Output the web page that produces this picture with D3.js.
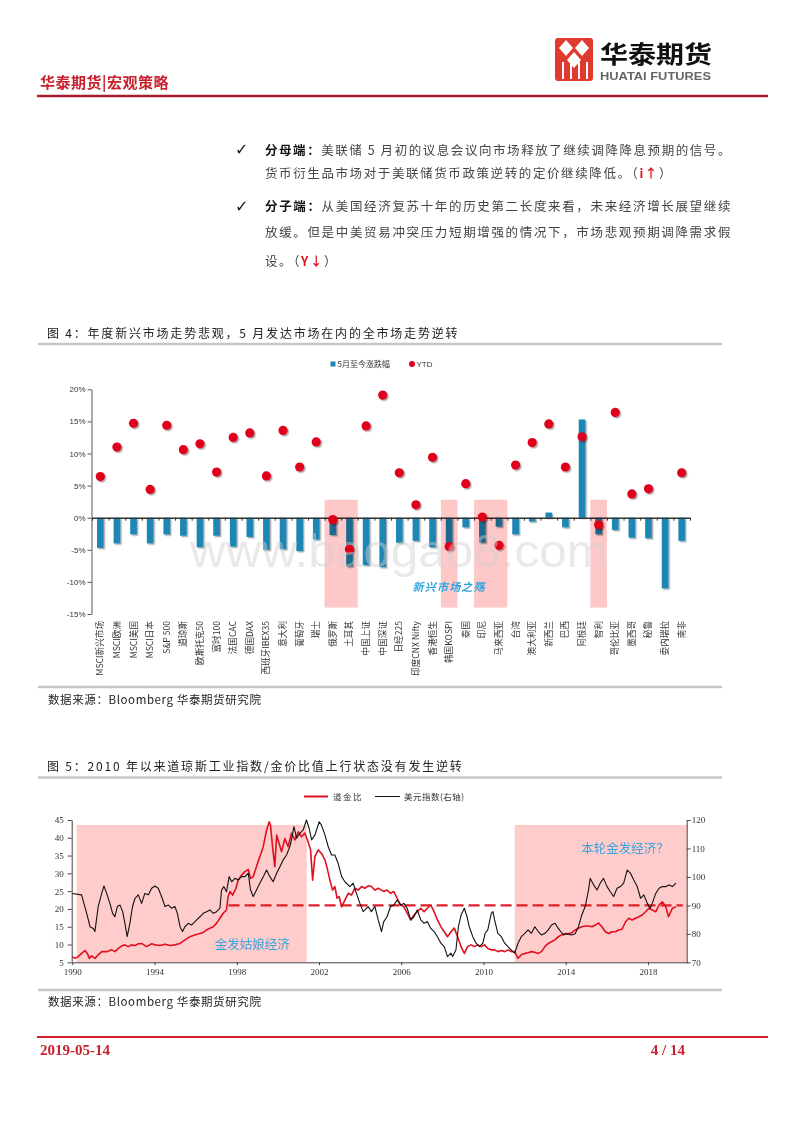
<!DOCTYPE html>
<html><head><meta charset="utf-8">
<script src="https://cdn.jsdelivr.net/npm/d3@7"></script>
<style>
html,body{margin:0;padding:0;background:#fff;}
svg{display:block;}
</style></head>
<body>
<svg id="page" width="800" height="1132"></svg>
<script>
// ---------------- DATA ----------------
const markets = ["MSCI新兴市场","MSCI欧洲","MSCI美国","MSCI日本","S&P 500","道琼斯","欧斯托克50","富时100","法国CAC","德国DAX","西班牙IBEX35","意大利","葡萄牙","瑞士","俄罗斯","土耳其","中国上证","中国深证","日经225","印度CNX Nifty","香港恒生","韩国KOSPI","泰国","印尼","马来西亚","台湾","澳大利亚","新西兰","巴西","阿根廷","智利","哥伦比亚","墨西哥","秘鲁","委内瑞拉","南非"];
const mayChange = [-4.7,-4.0,-2.6,-4.0,-2.6,-2.8,-4.6,-2.8,-4.5,-3.0,-5.0,-4.9,-5.2,-3.4,-2.7,-7.6,-7.4,-7.7,-3.9,-3.6,-4.6,-4.1,-1.5,-3.9,-1.4,-2.6,-0.6,0.8,-1.5,15.3,-2.6,-1.9,-3.1,-3.2,-11.0,-3.6];
const ytdChange = [6.4,11.0,14.7,4.4,14.4,10.6,11.5,7.1,12.5,13.2,6.5,13.6,7.9,11.8,-0.3,-4.9,14.3,19.1,7.0,2.0,9.4,-4.5,5.3,0.1,-4.3,8.2,11.7,14.6,7.9,12.6,-1.1,16.4,3.7,4.5,null,7.0];
const pctTicks = [-15,-10,-5,0,5,10,15,20];
const emBands = [["俄罗斯","土耳其"],["韩国KOSPI","韩国KOSPI"],["印尼","马来西亚"],["智利","智利"]];
const emBandRange = [2.8,-14];

const dowGoldRatio = [[1990.00,6.6],[1990.13,6.1],[1990.29,6.6],[1990.45,7.5],[1990.62,8.3],[1990.73,7.5],[1990.83,6.1],[1990.94,6.8],[1991.10,6.1],[1991.26,7.1],[1991.43,8.0],[1991.67,8.0],[1991.91,8.5],[1992.07,8.0],[1992.24,8.9],[1992.40,9.6],[1992.56,9.9],[1992.72,9.4],[1992.88,9.9],[1993.05,9.7],[1993.21,10.2],[1993.37,10.3],[1993.61,9.4],[1993.86,10.2],[1994.02,9.9],[1994.26,9.7],[1994.51,10.1],[1994.75,9.7],[1994.99,9.9],[1995.24,10.3],[1995.48,11.3],[1995.72,12.2],[1995.96,12.7],[1996.21,13.1],[1996.37,13.4],[1996.53,14.1],[1996.69,14.6],[1996.86,15.0],[1997.02,16.0],[1997.18,17.4],[1997.34,18.8],[1997.50,19.7],[1997.58,23.5],[1997.67,24.9],[1997.80,23.9],[1997.96,25.8],[1998.07,28.1],[1998.23,29.5],[1998.40,30.5],[1998.56,31.1],[1998.67,28.6],[1998.80,29.1],[1998.96,31.9],[1999.12,34.7],[1999.29,37.5],[1999.45,42.2],[1999.58,44.5],[1999.64,43.6],[1999.74,37.5],[1999.85,31.9],[1999.94,40.8],[2000.06,38.4],[2000.18,36.1],[2000.34,39.8],[2000.50,37.5],[2000.66,41.3],[2000.83,39.4],[2000.99,41.7],[2001.15,40.3],[2001.31,41.3],[2001.47,38.9],[2001.59,36.6],[2001.69,28.1],[2001.80,34.7],[2001.96,36.6],[2002.12,35.6],[2002.29,33.8],[2002.40,31.4],[2002.53,28.1],[2002.66,25.3],[2002.77,26.3],[2002.88,23.0],[2002.98,23.5],[2003.10,20.6],[2003.26,22.5],[2003.42,24.4],[2003.58,23.9],[2003.74,25.8],[2003.91,25.3],[2004.07,26.3],[2004.23,25.8],[2004.39,26.5],[2004.55,26.3],[2004.72,25.3],[2004.88,25.8],[2005.04,25.3],[2005.15,24.9],[2005.31,25.3],[2005.48,24.4],[2005.64,24.9],[2005.80,23.0],[2005.97,21.1],[2006.13,20.6],[2006.29,18.8],[2006.46,16.9],[2006.62,18.3],[2006.78,19.2],[2006.95,20.2],[2007.11,19.2],[2007.27,20.2],[2007.44,21.1],[2007.60,19.2],[2007.76,16.9],[2007.93,15.0],[2008.09,13.6],[2008.25,12.2],[2008.42,13.6],[2008.58,14.6],[2008.74,12.2],[2008.91,9.4],[2009.07,7.5],[2009.23,9.4],[2009.40,9.9],[2009.56,9.4],[2009.72,9.9],[2009.89,9.4],[2010.05,9.9],[2010.21,8.9],[2010.38,8.5],[2010.54,8.5],[2010.70,8.0],[2010.87,8.3],[2011.03,8.0],[2011.19,8.5],[2011.36,8.0],[2011.52,8.0],[2011.68,6.1],[2011.84,7.1],[2012.01,7.5],[2012.17,7.7],[2012.33,8.0],[2012.50,7.8],[2012.66,7.5],[2012.82,8.0],[2012.99,9.4],[2013.15,10.3],[2013.31,10.8],[2013.48,11.3],[2013.64,12.2],[2013.80,12.7],[2013.97,13.1],[2014.13,13.0],[2014.29,13.3],[2014.46,14.1],[2014.62,14.6],[2014.78,15.0],[2014.95,15.2],[2015.11,15.2],[2015.27,15.0],[2015.44,15.5],[2015.60,16.0],[2015.76,15.0],[2015.93,13.6],[2016.09,13.1],[2016.25,13.6],[2016.42,13.6],[2016.58,14.1],[2016.74,14.3],[2016.91,16.4],[2017.07,17.4],[2017.23,16.9],[2017.40,17.4],[2017.56,17.8],[2017.72,18.3],[2017.89,19.2],[2018.05,20.2],[2018.21,19.7],[2018.38,19.2],[2018.54,21.1],[2018.70,22.0],[2018.87,20.6],[2019.00,17.8],[2019.11,19.2],[2019.19,20.2],[2019.36,20.6]];

const dollarIndex = [[1990.00,94.2],[1990.45,93.7],[1990.70,87.2],[1990.86,82.5],[1991.02,81.9],[1991.10,80.8],[1991.26,89.6],[1991.43,94.2],[1991.54,96.8],[1991.67,94.2],[1991.83,90.7],[1991.96,87.2],[1992.07,86.0],[1992.19,89.6],[1992.32,90.1],[1992.45,87.8],[1992.56,83.7],[1992.67,79.0],[1992.80,83.7],[1992.93,89.6],[1993.05,92.5],[1993.21,93.7],[1993.37,90.7],[1993.53,94.2],[1993.70,93.7],[1993.86,96.0],[1994.02,96.8],[1994.18,96.0],[1994.34,93.1],[1994.51,89.6],[1994.67,90.1],[1994.83,89.0],[1994.99,89.6],[1995.11,87.2],[1995.24,82.5],[1995.36,80.8],[1995.48,82.5],[1995.64,83.7],[1995.80,83.1],[1996.05,84.9],[1996.21,86.0],[1996.37,87.2],[1996.53,87.8],[1996.69,88.4],[1996.86,87.2],[1997.02,87.8],[1997.18,89.0],[1997.26,95.4],[1997.37,96.6],[1997.50,94.8],[1997.63,100.1],[1997.75,98.3],[1997.91,99.5],[1998.07,98.9],[1998.23,100.1],[1998.40,100.1],[1998.56,101.3],[1998.67,95.4],[1998.80,93.1],[1998.96,95.4],[1999.12,97.8],[1999.29,100.1],[1999.45,102.4],[1999.61,100.1],[1999.77,98.3],[1999.94,101.3],[2000.10,103.6],[2000.26,106.0],[2000.42,107.7],[2000.58,110.6],[2000.66,113.0],[2000.78,117.7],[2000.91,113.6],[2001.07,115.3],[2001.23,116.5],[2001.39,120.0],[2001.52,117.1],[2001.64,113.0],[2001.80,114.7],[2002.01,119.4],[2002.12,118.2],[2002.29,114.7],[2002.45,110.6],[2002.61,107.7],[2002.77,107.7],[2002.93,104.8],[2003.10,100.1],[2003.26,98.3],[2003.50,96.6],[2003.66,97.8],[2003.82,94.2],[2003.99,90.7],[2004.15,87.8],[2004.39,89.6],[2004.55,87.8],[2004.72,89.6],[2004.88,84.9],[2005.04,80.8],[2005.15,84.3],[2005.31,86.0],[2005.48,89.6],[2005.64,90.1],[2005.80,91.9],[2005.97,90.1],[2006.13,90.7],[2006.29,89.0],[2006.46,84.9],[2006.62,86.0],[2006.78,88.4],[2006.95,84.9],[2007.11,83.7],[2007.27,84.3],[2007.44,81.9],[2007.60,80.8],[2007.76,79.0],[2007.93,76.7],[2008.09,75.5],[2008.25,72.0],[2008.42,73.2],[2008.50,72.0],[2008.66,74.3],[2008.78,82.5],[2008.91,86.6],[2009.07,89.0],[2009.20,86.0],[2009.31,82.5],[2009.48,79.0],[2009.64,76.7],[2009.80,75.5],[2009.97,76.7],[2010.08,80.2],[2010.21,81.4],[2010.38,87.2],[2010.46,87.8],[2010.54,84.9],[2010.70,80.2],[2010.87,79.0],[2011.03,76.7],[2011.19,75.5],[2011.36,74.3],[2011.52,73.2],[2011.68,76.7],[2011.84,79.0],[2012.01,80.2],[2012.17,81.4],[2012.33,80.2],[2012.50,82.5],[2012.66,80.8],[2012.82,79.6],[2012.99,80.2],[2013.15,81.4],[2013.31,83.1],[2013.48,83.7],[2013.64,81.9],[2013.89,79.6],[2014.05,80.0],[2014.29,79.6],[2014.46,80.0],[2014.62,82.5],[2014.78,86.6],[2014.95,89.6],[2015.11,95.4],[2015.19,99.5],[2015.36,97.2],[2015.52,95.4],[2015.68,97.8],[2015.84,99.5],[2016.01,96.6],[2016.17,94.8],[2016.33,93.1],[2016.50,96.0],[2016.66,96.6],[2016.82,97.8],[2016.99,102.4],[2017.15,101.3],[2017.31,98.9],[2017.48,96.6],[2017.64,92.5],[2017.80,93.7],[2017.97,90.7],[2018.10,89.0],[2018.21,90.7],[2018.38,94.2],[2018.54,96.0],[2018.70,96.6],[2018.87,96.6],[2019.03,97.2],[2019.19,96.6],[2019.36,97.8]];

const leftTicks = [5,10,15,20,25,30,35,40,45];
const rightTicks = [70,80,90,100,110,120];
const yearTicks = [1990,1994,1998,2002,2006,2010,2014,2018];
const goldilocksBands = [[1990.21,2001.40],[2011.52,2019.9]];
const bandLabels = ["金发姑娘经济","本轮金发经济？"];
const bandLabelYears = [1998.75,2016.88];
const dollarRefLevel = 90;
const dollarRefSpan = [1997.6,2019.7];

// ---------------- PAGE ----------------
const svg = d3.select("#page");
const CJK = "'Noto Sans CJK SC', sans-serif";
const RED = "#c8202d";

const defs = svg.append("defs");
const f = defs.append("filter").attr("id","sh").attr("x","-50%").attr("y","-50%").attr("width","200%").attr("height","200%");
f.append("feDropShadow").attr("dx",1.4).attr("dy",1.4).attr("stdDeviation",0.7).attr("flood-color","#000").attr("flood-opacity",0.35);

// Header
svg.append("text").attr("x",40).attr("y",88).attr("font-family",CJK).attr("font-size",15).attr("font-weight","bold")
  .attr("fill",RED).attr("letter-spacing",0.5).text("华泰期货|宏观策略");
svg.append("line").attr("x1",37).attr("x2",768).attr("y1",96).attr("y2",96).attr("stroke","#a81d2b").attr("stroke-width",2.5);
// logo
const logo = svg.append("g");
logo.append("rect").attr("x",555).attr("y",38).attr("width",38).attr("height",43).attr("rx",3).attr("fill","#e03a2f");
[[566,48],[582,48]].forEach(p=>{
  logo.append("path").attr("d",`M${p[0]},${p[1]-8} L${p[0]+7},${p[1]} L${p[0]},${p[1]+8} L${p[0]-7},${p[1]} Z`).attr("fill","#fff");
});
logo.append("path").attr("d","M574,52 L581,60 L574,68 L567,60 Z").attr("fill","#fff");
[562,570,578,586].forEach(x=>logo.append("rect").attr("x",x).attr("y",62).attr("width",2).attr("height",17).attr("fill","#fff"));
logo.append("text").attr("x",600).attr("y",63).attr("font-family",CJK).attr("font-size",24).attr("font-weight","bold")
  .attr("fill","#111").attr("textLength",112).attr("lengthAdjust","spacingAndGlyphs").text("华泰期货");
logo.append("text").attr("x",600).attr("y",80).attr("font-family","'Liberation Sans Narrow','Liberation Sans',sans-serif").attr("font-size",10.5).attr("font-weight","bold")
  .attr("fill","#666").attr("textLength",111).attr("lengthAdjust","spacingAndGlyphs").text("HUATAI FUTURES");

// Paragraph
const para = svg.append("g").attr("font-family",CJK).attr("font-size",12.5).attr("fill","#444");
[155,211.5].forEach(y=>para.append("text").attr("x",235).attr("y",y).attr("font-family","'DejaVu Sans'").attr("font-size",16).attr("font-weight","bold").attr("fill","#111").text("✓"));
function line(y, parts, len){
  const t = para.append("text").attr("x",265).attr("y",y).attr("letter-spacing",1.6);
  if(len){ t.attr("textLength",len).attr("lengthAdjust","spacing"); }
  parts.forEach(p=>{
    const s = t.append("tspan").text(p[0]);
    if(p[1]==="b") s.attr("font-weight","bold").attr("fill","#111");
    if(p[1]==="r") s.attr("font-weight","bold").attr("fill","#e0101f");
  });
}
line(154.5,[["分母端：","b"],["美联储 5 月初的议息会议向市场释放了继续调降降息预期的信号。"]],467);
line(178,[["货币衍生品市场对于美联储货币政策逆转的定价继续降低。（"],["i↑","r"],["）"]]);
line(211,[["分子端：","b"],["从美国经济复苏十年的历史第二长度来看，未来经济增长展望继续"]],467);
line(237,[["放缓。但是中美贸易冲突压力短期增强的情况下，市场悲观预期调降需求假"]],467);
line(265.5,[["设。（"],["Y↓","r"],["）"]]);

// Section titles, rules, sources
function title(y, txt){
  svg.append("text").attr("x",47).attr("y",y).attr("font-family",CJK).attr("font-size",12).attr("fill","#222")
    .attr("letter-spacing",1.8).text(txt);
}
function rule(y){ svg.append("line").attr("x1",38).attr("x2",722).attr("y1",y).attr("y2",y).attr("stroke","#c6c6c6").attr("stroke-width",2.5); }
function source(y){
  svg.append("text").attr("x",48).attr("y",y).attr("font-family",CJK).attr("font-size",11.5).attr("fill","#222")
    .attr("letter-spacing",0.6).text("数据来源：Bloomberg 华泰期货研究院");
}
title(338,"图 4：年度新兴市场走势悲观，5 月发达市场在内的全市场走势逆转");
rule(344);
rule(687);
source(703.5);
title(771,"图 5：2010 年以来道琼斯工业指数/金价比值上行状态没有发生逆转");
rule(777.5);
rule(990);
source(1006);

// Footer
svg.append("line").attr("x1",37).attr("x2",768).attr("y1",1037).attr("y2",1037).attr("stroke","#d0202f").attr("stroke-width",2);
svg.append("text").attr("x",40).attr("y",1055).attr("font-family","'Liberation Serif',serif").attr("font-size",15).attr("font-weight","bold").attr("fill",RED).text("2019-05-14");
svg.append("text").attr("x",685).attr("y",1055).attr("text-anchor","end").attr("font-family","'Liberation Serif',serif").attr("font-size",15).attr("font-weight","bold").attr("fill",RED).text("4 / 14");

// ---------------- CHART 4 ----------------
const c4 = svg.append("g");
const x4 = d3.scaleBand().domain(markets).range([92,690]).paddingInner(0.6).paddingOuter(0.3);
const step = x4.step();
const y4 = d3.scaleLinear().domain([-15,20]).range([614,389.3]);

// legend
c4.append("rect").attr("x",330.5).attr("y",361.5).attr("width",5).attr("height",5).attr("fill","#1a86b5");
c4.append("text").attr("x",337.5).attr("y",367.3).attr("font-family",CJK).attr("font-size",8).attr("fill","#333").text("5月至今涨跌幅");
c4.append("circle").attr("cx",412).attr("cy",364).attr("r",3).attr("fill","#e0001b");
c4.append("text").attr("x",416.5).attr("y",367.3).attr("font-family","'Liberation Sans',sans-serif").attr("font-size",8).attr("fill","#333").text("YTD");

// y axis
const ya = c4.append("g").attr("transform","translate(91.5,0)")
  .call(d3.axisLeft(y4).tickValues(pctTicks).tickFormat(d=>d+"%").tickSize(4).tickSizeOuter(0));
ya.select(".domain").attr("stroke","#555");
ya.selectAll(".tick line").attr("stroke","#555");
ya.selectAll(".tick text").attr("font-family","'Liberation Sans',sans-serif").attr("font-size",8).attr("fill","#333").attr("x",-6);

// bars
c4.append("g").selectAll("rect").data(markets).join("rect")
  .attr("x",d=>x4(d)).attr("width",x4.bandwidth())
  .attr("y",(d,i)=>y4(Math.max(0,mayChange[i])))
  .attr("height",(d,i)=>Math.abs(y4(mayChange[i])-y4(0)))
  .attr("fill","#1a86b5").attr("filter","url(#sh)");

// x axis at 0
const xa = c4.append("g").attr("transform",`translate(0,${y4(0)})`)
  .call(d3.axisBottom(d3.scaleLinear().domain([0,markets.length]).range([92,690])).tickValues(d3.range(markets.length+1)).tickFormat("").tickSize(3).tickSizeOuter(0));
xa.select(".domain").attr("stroke","#333").attr("stroke-width",1.4);
xa.selectAll(".tick line").attr("stroke","#333");

// dots
c4.append("g").selectAll("circle").data(markets.filter((d,i)=>ytdChange[i]!==null)).join("circle")
  .attr("cx",d=>x4(d)+x4.bandwidth()/2)
  .attr("cy",d=>y4(ytdChange[markets.indexOf(d)]))
  .attr("r",4.6).attr("fill","#e0001b").attr("filter","url(#sh)");

// pink bands (multiply)
const bandStart = d=>x4(d)-(step-x4.bandwidth())/2;
c4.append("g").selectAll("rect").data(emBands).join("rect")
  .attr("x",d=>bandStart(d[0])).attr("width",d=>bandStart(d[1])+step-bandStart(d[0]))
  .attr("y",y4(emBandRange[0])).attr("height",y4(emBandRange[1])-y4(emBandRange[0]))
  .attr("fill","#ffc8c8").style("mix-blend-mode","multiply");

c4.append("text").attr("x",x4("韩国KOSPI")+x4.bandwidth()/2).attr("y",591).attr("text-anchor","middle")
  .attr("font-family",CJK).attr("font-size",11).attr("font-style","italic").attr("font-weight","bold").attr("letter-spacing",1.2)
  .attr("fill","#2fa3dc").text("新兴市场之殇");

// category labels
c4.append("g").selectAll("text").data(markets).join("text")
  .attr("transform",d=>`translate(${x4(d)+x4.bandwidth()/2+3},621) rotate(-90)`)
  .attr("text-anchor","end").attr("font-family",CJK).attr("font-size",8.6).attr("fill","#333").text(d=>d);

// watermark
svg.append("text").attr("x",190).attr("y",567).attr("font-family","'Liberation Sans',sans-serif").attr("font-size",46)
  .attr("fill","#cfcfcf").attr("opacity",0.45).attr("textLength",418).attr("lengthAdjust","spacingAndGlyphs").text("www.baogao8.com");

// ---------------- CHART 5 ----------------
const c5 = svg.append("g");
const x5 = d3.scaleLinear().domain([1990,2019.9]).range([72.3,687]);
const yL = d3.scaleLinear().domain([5,45]).range([962.3,820]);
const yR = d3.scaleLinear().domain([70,120]).range([962.3,820]);

c5.append("g").selectAll("rect").data(goldilocksBands).join("rect")
  .attr("x",d=>x5(d[0])).attr("width",d=>x5(d[1])-x5(d[0]))
  .attr("y",yL(43.6)).attr("height",yL(5)-yL(43.6)).attr("fill","#ffcccc");

// axes
const la = c5.append("g").attr("transform","translate(71.7,0)").call(d3.axisLeft(yL).tickValues(leftTicks).tickSize(4).tickSizeOuter(0));
const ra = c5.append("g").attr("transform","translate(686.7,0)").call(d3.axisRight(yR).tickValues(rightTicks).tickSize(4).tickSizeOuter(0));
const ba = c5.append("g").attr("transform",`translate(0,${yL(5)})`).call(d3.axisBottom(x5).tickValues(yearTicks).tickFormat(d3.format("d")).tickSize(3).tickSizeOuter(0));
[la,ra,ba].forEach(a=>{
  a.select(".domain").attr("stroke","#444");
  a.selectAll(".tick line").attr("stroke","#444");
  a.selectAll(".tick text").attr("font-family","'Liberation Serif',serif").attr("font-size",9).attr("fill","#333");
});
la.selectAll(".tick text").attr("x",-8);
ra.selectAll(".tick text").attr("x",5);
ba.selectAll(".tick text").attr("y",6);

// reference dashed line
c5.append("line").attr("x1",x5(dollarRefSpan[0])).attr("x2",x5(dollarRefSpan[1]))
  .attr("y1",yR(dollarRefLevel)).attr("y2",yR(dollarRefLevel))
  .attr("stroke","#e0202a").attr("stroke-width",2.4).attr("stroke-dasharray","11,5");

// lines
c5.append("path").datum(dowGoldRatio).attr("fill","none").attr("stroke","#e0101f").attr("stroke-width",1.6).attr("stroke-linejoin","round")
  .attr("d",d3.line().x(d=>x5(d[0])).y(d=>yL(d[1])));
c5.append("path").datum(dollarIndex).attr("fill","none").attr("stroke","#111").attr("stroke-width",1.1).attr("stroke-linejoin","round")
  .attr("d",d3.line().x(d=>x5(d[0])).y(d=>yR(d[1])));

// band labels
c5.append("text").attr("x",x5(bandLabelYears[0])).attr("y",948.5).attr("text-anchor","middle")
  .attr("font-family",CJK).attr("font-size",12.5).attr("fill","#3aa3dc").text(bandLabels[0]);
c5.append("text").attr("x",x5(bandLabelYears[1])).attr("y",852.5).attr("text-anchor","middle")
  .attr("font-family",CJK).attr("font-size",12.5).attr("fill","#3aa3dc").text(bandLabels[1]);

// legend
c5.append("line").attr("x1",304).attr("x2",328).attr("y1",796.5).attr("y2",796.5).attr("stroke","#e0101f").attr("stroke-width",2);
c5.append("text").attr("x",333).attr("y",799.8).attr("font-family",CJK).attr("font-size",8.5).attr("fill","#333").attr("letter-spacing",1.5).text("道金比");
c5.append("line").attr("x1",375).attr("x2",400).attr("y1",796.5).attr("y2",796.5).attr("stroke","#111").attr("stroke-width",1);
c5.append("text").attr("x",404).attr("y",799.8).attr("font-family",CJK).attr("font-size",8.5).attr("fill","#333").attr("letter-spacing",0.5).text("美元指数(右轴)");
</script>
</body></html>
